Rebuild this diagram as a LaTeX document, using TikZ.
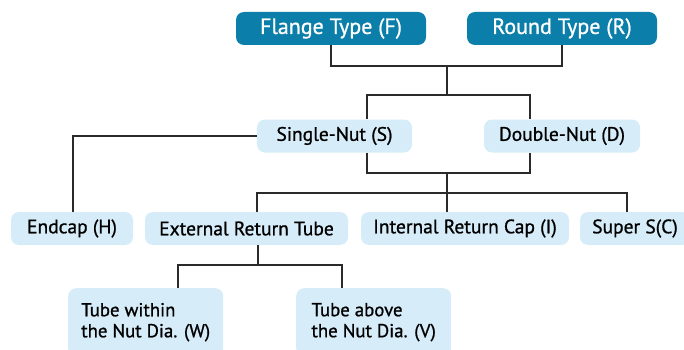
\documentclass[tikz,border=0pt]{standalone}
\usepackage{fontspec}
\setmainfont{PT Sans}
\newfontfamily\medfont{PT Sans}[FakeBold=0.9]
\definecolor{darkblue}{HTML}{0B7EA9}
\definecolor{lightblue}{HTML}{D6ECF8}
\definecolor{linecol}{HTML}{2A2A2A}
\begin{document}
\begin{tikzpicture}[x=1pt,y=-1pt,
  topbox/.style={fill=darkblue,text=white,rounded corners=8pt,minimum height=33pt,inner sep=0pt,font=\medfont\fontsize{22}{26}\selectfont},
  subbox/.style={fill=lightblue,text=black,rounded corners=8pt,minimum height=33pt,inner sep=0pt,font=\medfont\fontsize{19.5}{22}\selectfont},
  tallbox/.style={fill=lightblue,text=black,rounded corners=8pt,anchor=north west,align=left,inner xsep=13pt,inner ysep=0pt,font=\medfont\fontsize{18.8}{21}\selectfont},
  conn/.style={draw=linecol,line width=1.3pt}]
\useasboundingbox (0,0) rectangle (684,350);
% top row
\node[topbox,minimum width=190pt] (F) at (331,28.5) {Flange Type (F)};
\node[topbox,minimum width=190pt] (R) at (562,28.5) {Round Type (R)};
% second row
\node[subbox,minimum width=155pt] (S) at (334.5,136) {Single-Nut (S)};
\node[subbox,minimum width=156pt] (D) at (562,136) {Double-Nut (D)};
% third row
\node[subbox,minimum width=122pt] (H) at (72,228.5) {Endcap (H)};
\node[subbox,minimum width=203pt] (E) at (246.5,228.5) {External Return Tube};
\node[subbox,minimum width=208pt] (I) at (465,228.5) {Internal Return Cap (I)};
\node[subbox,minimum width=110pt] (C) at (635,228.5) {Super S(C)};
% bottom row
\node[tallbox,minimum width=155pt,minimum height=68pt] (W) at (68,288) {Tube within\\the Nut Dia. (W)};
\node[tallbox,minimum width=155pt,minimum height=68pt] (V) at (296,288) {Tube above\\the Nut Dia. (V)};
% junction coordinates
\coordinate (j1) at (447,66);
\coordinate (j2) at (447,95);
\coordinate (j3) at (447,173);
\coordinate (j4) at (447,193);
\coordinate (j5) at (258,265);
% connectors
\draw[conn] (F.south) |- (j1) -| (R.south);
\draw[conn] (j1) -- (j2);
\draw[conn] (S.north -| 367,0) |- (j2) -| (D.north -| 530,0);
\draw[conn] (S.west) -| (H.north -| 73,0);
\draw[conn] (S.south -| 367,0) |- (j3) -| (D.south -| 530,0);
\draw[conn] (j3) -- (j3 |- I.north);
\draw[conn] (E.north -| 257,0) |- (j4) -| (C.north -| 627,0);
\draw[conn] (E.south -| 258,0) -- (j5);
\draw[conn] (W.north -| 178,0) |- (j5) -| (V.north -| 342,0);
\end{tikzpicture}
\end{document}
